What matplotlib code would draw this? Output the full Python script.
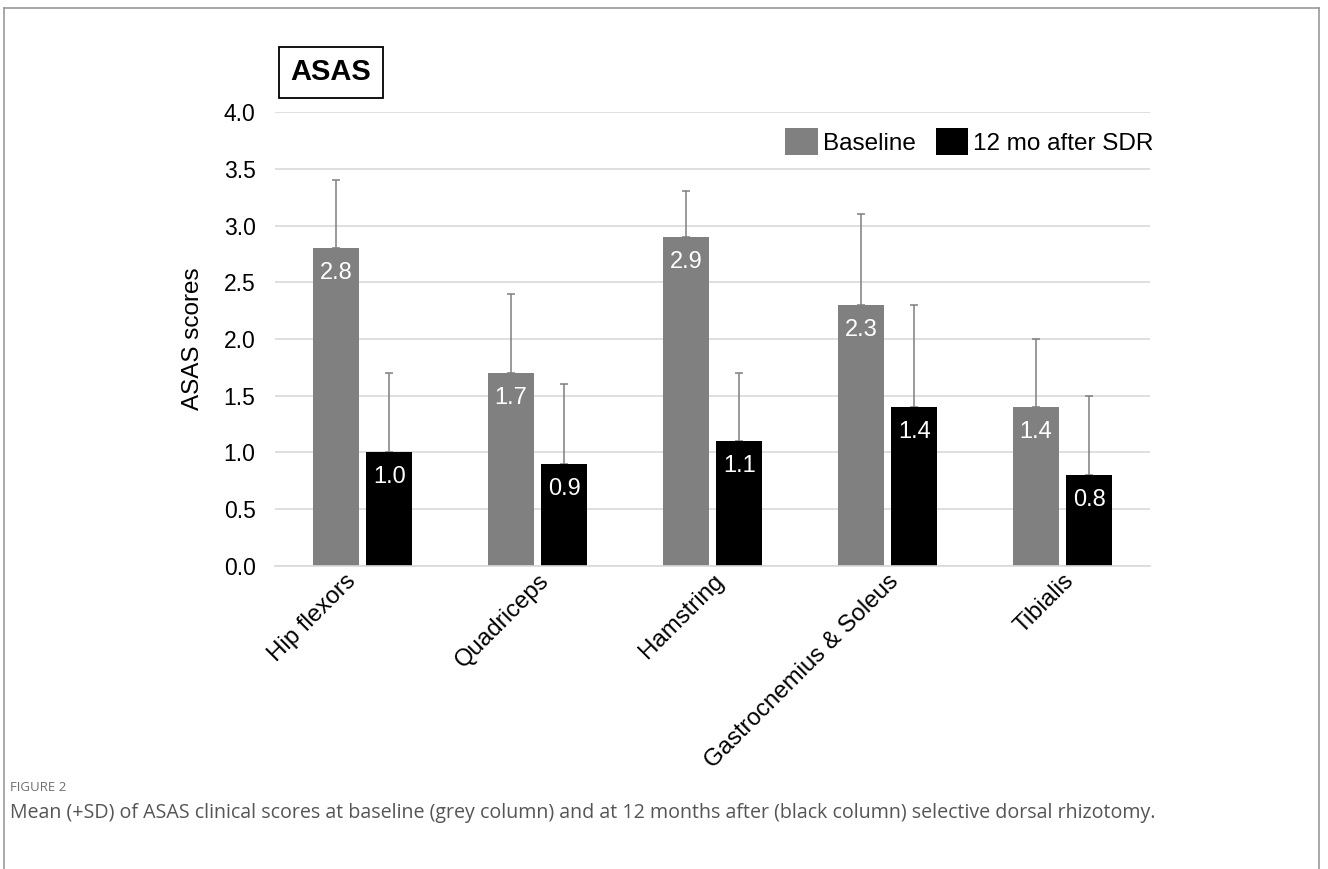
import numpy as np
import matplotlib.pyplot as plt
from matplotlib.lines import Line2D

plt.rcParams['font.family'] = ['Liberation Sans', 'DejaVu Sans']

# data
muscles = ['Hip flexors', 'Quadriceps', 'Hamstring', 'Gastrocnemius & Soleus', 'Tibialis']
baseline = [2.8, 1.7, 2.9, 2.3, 1.4]
baseline_sd = [0.6, 0.7, 0.4, 0.8, 0.6]
after = [1.0, 0.9, 1.1, 1.4, 0.8]
after_sd = [0.7, 0.7, 0.6, 0.9, 0.7]
yticks = [0.0, 0.5, 1.0, 1.5, 2.0, 2.5, 3.0, 3.5, 4.0]

fig = plt.figure(figsize=(13.28, 8.69), dpi=100)
ax = fig.add_axes([0.2071, 0.3487, 0.6589, 0.5224])

x = np.arange(len(muscles))
w = 0.263
off = 0.152
grey = '#808080'

b1 = ax.bar(x - off, baseline, w, color=grey, label='Baseline', zorder=2)
b2 = ax.bar(x + off, after, w, color='black', label='12 mo after SDR', zorder=2)
ax.errorbar(x - off, baseline, yerr=[np.zeros(5), baseline_sd], fmt='none',
            ecolor='#7f7f7f', elinewidth=1.1, capsize=3.2, capthick=1.1, zorder=1)
ax.errorbar(x + off, after, yerr=[np.zeros(5), after_sd], fmt='none',
            ecolor='#7f7f7f', elinewidth=1.1, capsize=3.2, capthick=1.1, zorder=1)

for bars, vals in [(b1, baseline), (b2, after)]:
    for r, v in zip(bars, vals):
        ax.text(r.get_x() + r.get_width() / 2, v - 0.22, f'{v:.1f}', color='white',
                ha='center', va='center', fontsize=17, zorder=3)

ax.set_xlim(-0.5, len(muscles) - 0.5)
ax.set_ylim(0, 4)
ax.set_yticks(yticks)
ax.set_yticklabels([f'{t:.1f}' for t in yticks], fontsize=16.5)
ax.set_xticks(x)
ax.set_xticklabels([])
# category labels (first one sits a bit further left in the original)
for i, name in enumerate(muscles):
    dx = -13 if i == 0 else 0
    ax.annotate(name, xy=(x[i], 0), xycoords=('data', 'axes fraction'),
                xytext=(dx, -3), textcoords='offset points', rotation=45,
                ha='right', va='top', rotation_mode='anchor', fontsize=17.3)
ax.tick_params(length=0)
ax.tick_params(axis='y', pad=14)
ax.grid(axis='y', color='#d9d9d9', linewidth=1.2, zorder=0)
ax.set_axisbelow(True)
for s in ['top', 'right', 'left']:
    ax.spines[s].set_visible(False)
ax.spines['bottom'].set_color('#d9d9d9')
ax.spines['bottom'].set_linewidth(1.2)
ax.set_ylabel('ASAS scores', fontsize=17.5, labelpad=14)

ax.legend(loc='center right', bbox_to_anchor=(1.018, 0.935), ncol=2, frameon=False,
          fontsize=17.5, handlelength=1.33, handleheight=1.33, handletextpad=0.2,
          columnspacing=0.85, borderpad=0)

# title box
fig.text(0.2493, 0.9166, 'ASAS', fontsize=21, fontweight='bold', ha='center', va='center',
         bbox=dict(boxstyle='square,pad=0.4', facecolor='white', edgecolor='black', linewidth=1.3))

# outer frame
fig.add_artist(Line2D([0.003, 0.003], [0, 0.991], color='#999999', linewidth=1.2))
fig.add_artist(Line2D([0.003, 0.993], [0.991, 0.991], color='#999999', linewidth=1.2))
fig.add_artist(Line2D([0.993, 0.993], [0, 0.991], color='#999999', linewidth=1.2))

# caption
fig.text(0.0075, 0.094, 'FIGURE 2', fontsize=9.5, color='#707070', family='Open Sans', va='center')
fig.text(0.0075, 0.065, 'Mean (+SD) of ASAS clinical scores at baseline (grey column) and at 12 months after '
         '(black column) selective dorsal rhizotomy.', fontsize=14.1, color='#555555',
         family='Open Sans', va='center')

fig.savefig('out.png', dpi=100)
